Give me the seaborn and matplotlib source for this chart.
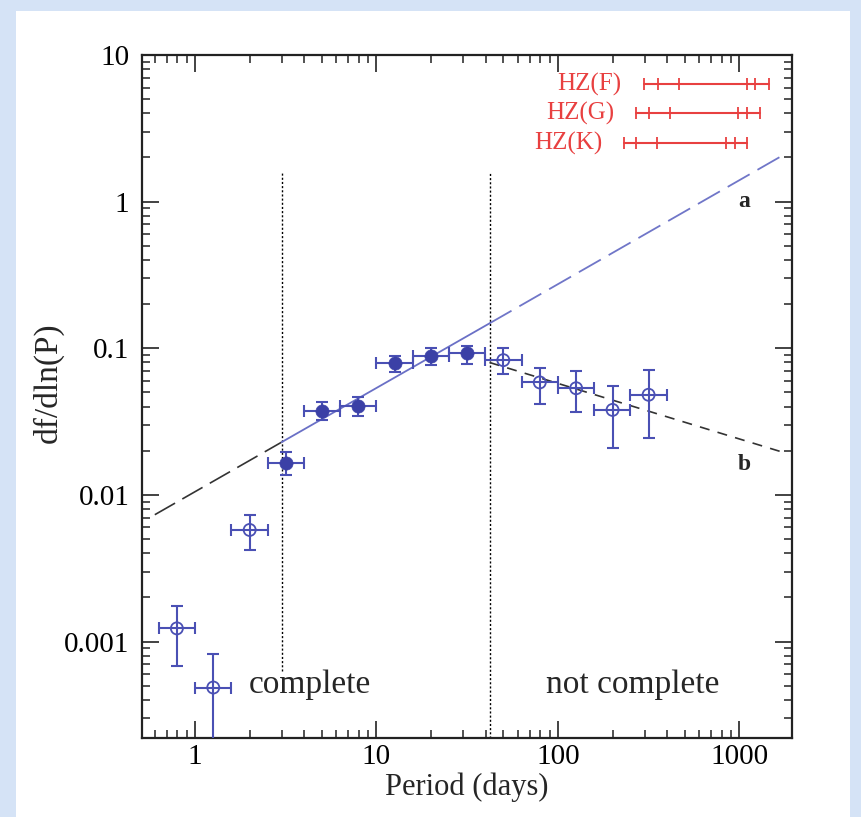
import matplotlib
matplotlib.use('Agg')
import pandas as pd
import matplotlib.pyplot as plt
import seaborn as sns
from matplotlib.patches import Rectangle
from matplotlib.ticker import FixedLocator, LogLocator, NullFormatter

# binned occurrence rate vs orbital period
period = [0.794, 1.26, 2.0, 3.16, 5.0, 7.94, 12.6, 20.0, 31.6, 50.0, 79.4, 126, 200, 316]
p_lo = [0.631, 1.0, 1.58, 2.51, 3.98, 6.31, 10.0, 15.8, 25.1, 39.8, 63.1, 100, 158, 251]
p_hi = [1.0, 1.58, 2.51, 3.98, 6.31, 10.0, 15.8, 25.1, 39.8, 63.1, 100, 158, 251, 398]
rate = [0.00123, 0.000486, 0.00577, 0.0166, 0.0374, 0.0405, 0.0793, 0.0889, 0.0922,
        0.083, 0.0585, 0.0534, 0.038, 0.0482]
rate_hi = [0.00176, 0.000828, 0.0073, 0.0197, 0.0427, 0.0467, 0.0885, 0.0998, 0.104,
           0.0998, 0.0733, 0.0695, 0.0555, 0.0713]
rate_lo = [0.000686, 0.00012, 0.00422, 0.0136, 0.0324, 0.0346, 0.0689, 0.0767, 0.078,
           0.0673, 0.042, 0.0365, 0.021, 0.0244]
in_fit = [False, False, False, True, True, True, True, True, True,
          False, False, False, False, False]

# power-law fits (a: rising, b: falling)
fit_a_x = [0.6, 3.0, 42, 1700]
fit_a_y = [0.00733, 0.0229, 0.148, 2.04]
fit_b_x = [42, 1700]
fit_b_y = [0.080, 0.0197]

# completeness limits
limit_x = [3.0, 42]
limit_bottom = [0.00063, 0.00022]
limit_top = 1.6

# habitable zone ranges
hz_labels = ['HZ(F)', 'HZ(G)', 'HZ(K)']
hz_y = [6.3, 4.0, 2.5]
hz_ticks = [[298, 357, 462, 1102, 1220, 1457],
            [271, 319, 417, 981, 1099, 1301],
            [232, 271, 351, 839, 944, 1099]]

yticks = [0.001, 0.01, 0.1, 1, 10]
ytick_labels = ['0.001', '0.01', '0.1', '1', '10']
xticks = [1, 10, 100, 1000]
xtick_labels = ['1', '10', '100', '1000']

df = pd.DataFrame({'period': period, 'rate': rate, 'p_lo': p_lo, 'p_hi': p_hi,
                   'r_lo': rate_lo, 'r_hi': rate_hi, 'fit': in_fit})

sns.set_style('ticks')
plt.rcParams['font.family'] = ['Liberation Serif', 'DejaVu Serif']

fig = plt.figure(figsize=(8.62, 8.17), dpi=100, facecolor='#d5e3f6')
fig.add_artist(Rectangle((16 / 862, 0), (850 - 16) / 862, 1 - 11 / 817,
                         transform=fig.transFigure, facecolor='white',
                         edgecolor='none', zorder=0))
ax = fig.add_axes([142 / 862, 1 - 738 / 817, (792 - 142) / 862, (738 - 55) / 817])
ax.set_facecolor('white')

blue = '#3b40a6'
bar_blue = '#4a50b4'

# error bars
ax.errorbar(df['period'], df['rate'],
            xerr=[df['period'] - df['p_lo'], df['p_hi'] - df['period']],
            yerr=[df['rate'] - df['r_lo'], df['r_hi'] - df['rate']],
            fmt='none', ecolor=bar_blue, elinewidth=1.5, capsize=4.3,
            capthick=1.5, zorder=3)

sns.scatterplot(data=df[df['fit']], x='period', y='rate', ax=ax, color=blue,
                s=90, edgecolor=blue, linewidth=0.5, zorder=4)
sns.scatterplot(data=df[~df['fit']], x='period', y='rate', ax=ax, facecolor='none',
                edgecolor=bar_blue, s=75, linewidth=1.3, zorder=4)

# fit line a: dashed black, solid blue in fit range, dashed blue beyond
ax.plot(fit_a_x[0:2], fit_a_y[0:2], color='#333333', lw=1.2, dashes=(14, 5), zorder=2)
sns.lineplot(x=fit_a_x[1:3], y=fit_a_y[1:3], ax=ax, color='#6a70c6', lw=1.3, zorder=2)
ax.plot(fit_a_x[2:4], fit_a_y[2:4], color='#7076c8', lw=1.3, dashes=(14, 5), zorder=2)
ax.plot(fit_b_x, fit_b_y, color='#333333', lw=1.2, dashes=(6, 5), zorder=2)

for xv, yb in zip(limit_x, limit_bottom):
    ax.plot([xv, xv], [yb, limit_top], color='black', lw=1.0, ls=(0, (1.5, 1.5)), zorder=1)

hz_red = '#e84040'
for lab, yv, tk in zip(hz_labels, hz_y, hz_ticks):
    ax.plot([tk[0], tk[-1]], [yv, yv], color=hz_red, lw=1.5)
    ax.plot(tk, [yv] * len(tk), ls='none', marker='|', ms=8, mew=1.3, color=hz_red)
    ax.annotate(lab, (tk[0], yv), xytext=(-16, 0), textcoords='offset points',
                ha='right', va='center', color=hz_red, fontsize=18)

ax.text(4.29, 0.00051, 'complete', ha='center', va='center', fontsize=24)
ax.text(259, 0.00051, 'not complete', ha='center', va='center', fontsize=24)
ax.text(1060, 1.0, 'a', ha='center', va='center', fontsize=17, fontweight='bold')
ax.text(1060, 0.016, 'b', ha='center', va='center', fontsize=17, fontweight='bold')

ax.set_xscale('log')
ax.set_yscale('log')
ax.set_xlim(0.51, 1950)
ax.set_ylim(2.2e-4, 10)

ax.xaxis.set_major_locator(FixedLocator(xticks))
ax.set_xticklabels(xtick_labels)
ax.yaxis.set_major_locator(FixedLocator(yticks))
ax.set_yticklabels(ytick_labels)
for axis in (ax.xaxis, ax.yaxis):
    axis.set_minor_locator(LogLocator(base=10, subs=range(2, 10)))
    axis.set_minor_formatter(NullFormatter())

ax.tick_params(which='both', direction='in', top=True, right=True, colors='#222222',
               labelcolor='black', labelsize=21)
ax.tick_params(which='major', length=12, width=1.2)
ax.tick_params(axis='x', which='major', pad=4)
ax.tick_params(axis='y', which='major', pad=9)
ax.tick_params(which='minor', length=6, width=1.1)
for sp in ax.spines.values():
    sp.set_linewidth(1.6)
    sp.set_color('#222222')

ax.set_xlabel('Period (days)', fontsize=22, labelpad=2)
ax.set_ylabel('df/dln(P)', fontsize=24, labelpad=0, y=0.52)

fig.savefig('out.png', dpi=100, facecolor=fig.get_facecolor())
